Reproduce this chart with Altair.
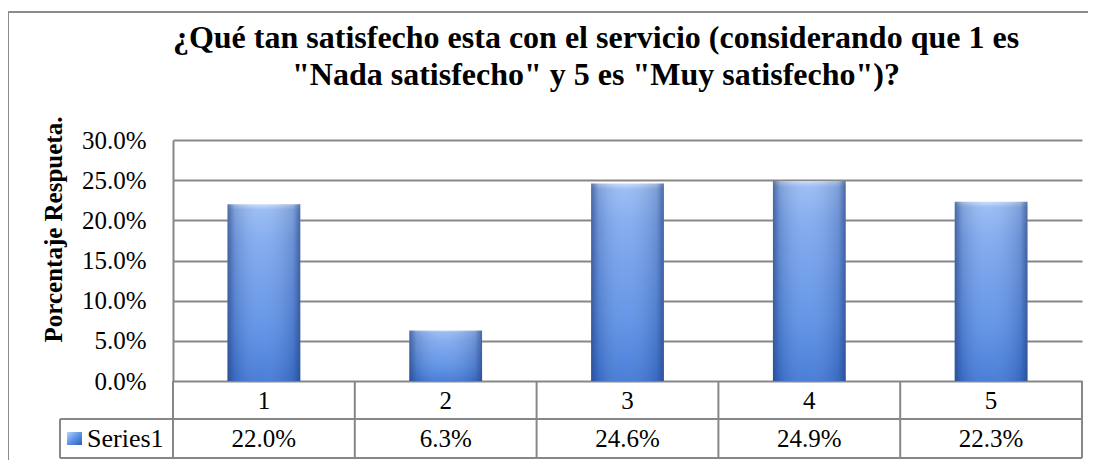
import altair as alt
import pandas as pd

# ---- data ----
categories = ["1", "2", "3", "4", "5"]
positions = [1, 2, 3, 4, 5]
values = [0.220, 0.063, 0.246, 0.249, 0.223]
y_ticks = [0.0, 0.05, 0.10, 0.15, 0.20, 0.25, 0.30]
series_name = "Series1"
title_line1 = "¿Qué tan satisfecho esta con el servicio (considerando que 1 es"
title_line2 = '"Nada satisfecho" y 5 es "Muy satisfecho")?'
y_title = "Porcentaje Respueta."

df = pd.DataFrame({"pos": positions, "cat": categories, "value": values})
bounds = pd.DataFrame({"b": [p - 0.5 for p in positions] + [positions[-1] + 0.5]})
one = pd.DataFrame({"k": [0]})

FONT = "Liberation Serif"
GRID = "#878787"
W, H = 909, 241
ROW1, ROW2 = 279, 318     # table row lines (px below plot top)
LEFT_CELL = -113          # left edge of the "Series1" cell

xscale = alt.Scale(domain=[0.5, 5.5], nice=False, zero=False)
yscale = alt.Scale(domain=[0, 0.30], nice=False, zero=True)

vert_grad = alt.LinearGradient(
    gradient="linear", x1=0, x2=0, y1=0, y2=1,
    stops=[
        alt.GradientStop(color="#c8ddfa", offset=0),
        alt.GradientStop(color="#95baf4", offset=0.03),
        alt.GradientStop(color="#7fa9ef", offset=0.2),
        alt.GradientStop(color="#5a8fe5", offset=0.7),
        alt.GradientStop(color="#3e77d6", offset=1),
    ],
)
horiz_grad = alt.LinearGradient(
    gradient="linear", x1=0, x2=1, y1=0, y2=0,
    stops=[
        alt.GradientStop(color="rgba(35,60,120,0.65)", offset=0),
        alt.GradientStop(color="rgba(35,60,120,0.22)", offset=0.1),
        alt.GradientStop(color="rgba(255,255,255,0.06)", offset=0.45),
        alt.GradientStop(color="rgba(35,60,120,0.22)", offset=0.9),
        alt.GradientStop(color="rgba(35,60,120,0.65)", offset=1),
    ],
)
key_grad = alt.LinearGradient(
    gradient="linear", x1=0, x2=1, y1=0, y2=1,
    stops=[
        alt.GradientStop(color="#b8d2f8", offset=0),
        alt.GradientStop(color="#5d93e6", offset=0.5),
        alt.GradientStop(color="#2f5fae", offset=1),
    ],
)

base = alt.Chart(df).transform_calculate(
    x0="datum.pos - 0.2", x1="datum.pos + 0.2", zero="0"
)

border = alt.Chart(one).mark_rect(
    fill="transparent", stroke="#8c8c8c", strokeWidth=2
).encode(
    x=alt.value(-165), x2=alt.value(940), y=alt.value(-128), y2=alt.value(345)
)


def title_line(text, y):
    return alt.Chart(one).transform_calculate(line=repr(text)).mark_text(
        font=FONT, fontSize=32, fontWeight="bold", color="black",
        align="center", baseline="alphabetic",
    ).encode(x=alt.value(423), y=alt.value(y), text="line:N")


t1 = title_line(title_line1, -92)
t2 = title_line(title_line2, -55)

bars = base.mark_rect(fill=vert_grad).encode(
    x=alt.X("x0:Q", scale=xscale, axis=None),
    x2="x1:Q",
    y=alt.Y(
        "value:Q", scale=yscale,
        axis=alt.Axis(
            values=y_ticks, format=".1%", grid=True, gridColor=GRID, gridWidth=2,
            domain=True, domainColor=GRID, domainWidth=2, ticks=False,
            labelFont=FONT, labelFontSize=25, labelColor="black", labelPadding=27,
            title=y_title, titleFont=FONT, titleFontSize=25, titleFontWeight="bold",
            titleColor="black", titleAngle=270, titleX=-120, titleY=89,
            titleAlign="center", titleBaseline="middle",
        ),
    ),
    y2="zero:Q",
)
bars_shade = base.mark_rect(fill=horiz_grad).encode(
    x=alt.X("x0:Q", scale=xscale), x2="x1:Q",
    y=alt.Y("value:Q", scale=yscale), y2="zero:Q",
)

col_lines = alt.Chart(bounds).mark_rule(color=GRID, strokeWidth=2).encode(
    x=alt.X("b:Q", scale=xscale), y=alt.value(H), y2=alt.value(ROW2)
)
left_cell_line = alt.Chart(one).mark_rule(color=GRID, strokeWidth=2).encode(
    x=alt.value(LEFT_CELL), y=alt.value(ROW1), y2=alt.value(ROW2)
)
row_line1 = alt.Chart(one).mark_rule(color=GRID, strokeWidth=2).encode(
    x=alt.value(LEFT_CELL), x2=alt.value(W), y=alt.value(ROW1)
)
row_line2 = alt.Chart(one).mark_rule(color=GRID, strokeWidth=2).encode(
    x=alt.value(LEFT_CELL), x2=alt.value(W), y=alt.value(ROW2)
)

cat_text = alt.Chart(df).mark_text(
    font=FONT, fontSize=25, color="black", baseline="middle", align="center"
).encode(x=alt.X("pos:Q", scale=xscale), y=alt.value(261), text="cat:N")

val_text = alt.Chart(df).mark_text(
    font=FONT, fontSize=25, color="black", baseline="middle", align="center"
).encode(
    x=alt.X("pos:Q", scale=xscale), y=alt.value(299),
    text=alt.Text("value:Q", format=".1%"),
)

key = alt.Chart(one).mark_rect(fill=key_grad).encode(
    x=alt.value(-106), x2=alt.value(-91), y=alt.value(292), y2=alt.value(305)
)
key_text = alt.Chart(one).transform_calculate(label=repr(series_name)).mark_text(
    font=FONT, fontSize=26, color="black", baseline="middle", align="left"
).encode(x=alt.value(-86), y=alt.value(299), text="label:N")

chart = alt.layer(
    border, t1, t2, bars, bars_shade, col_lines, left_cell_line, row_line1,
    row_line2, cat_text, val_text, key, key_text,
).properties(
    width=W, height=H,
    autosize=alt.AutoSizeParams(type="none"),
    padding={"left": 165, "top": 132, "right": 6, "bottom": 79},
).configure_view(strokeWidth=0)

chart.save("out.html", embed_options={"renderer": "svg", "actions": False})
